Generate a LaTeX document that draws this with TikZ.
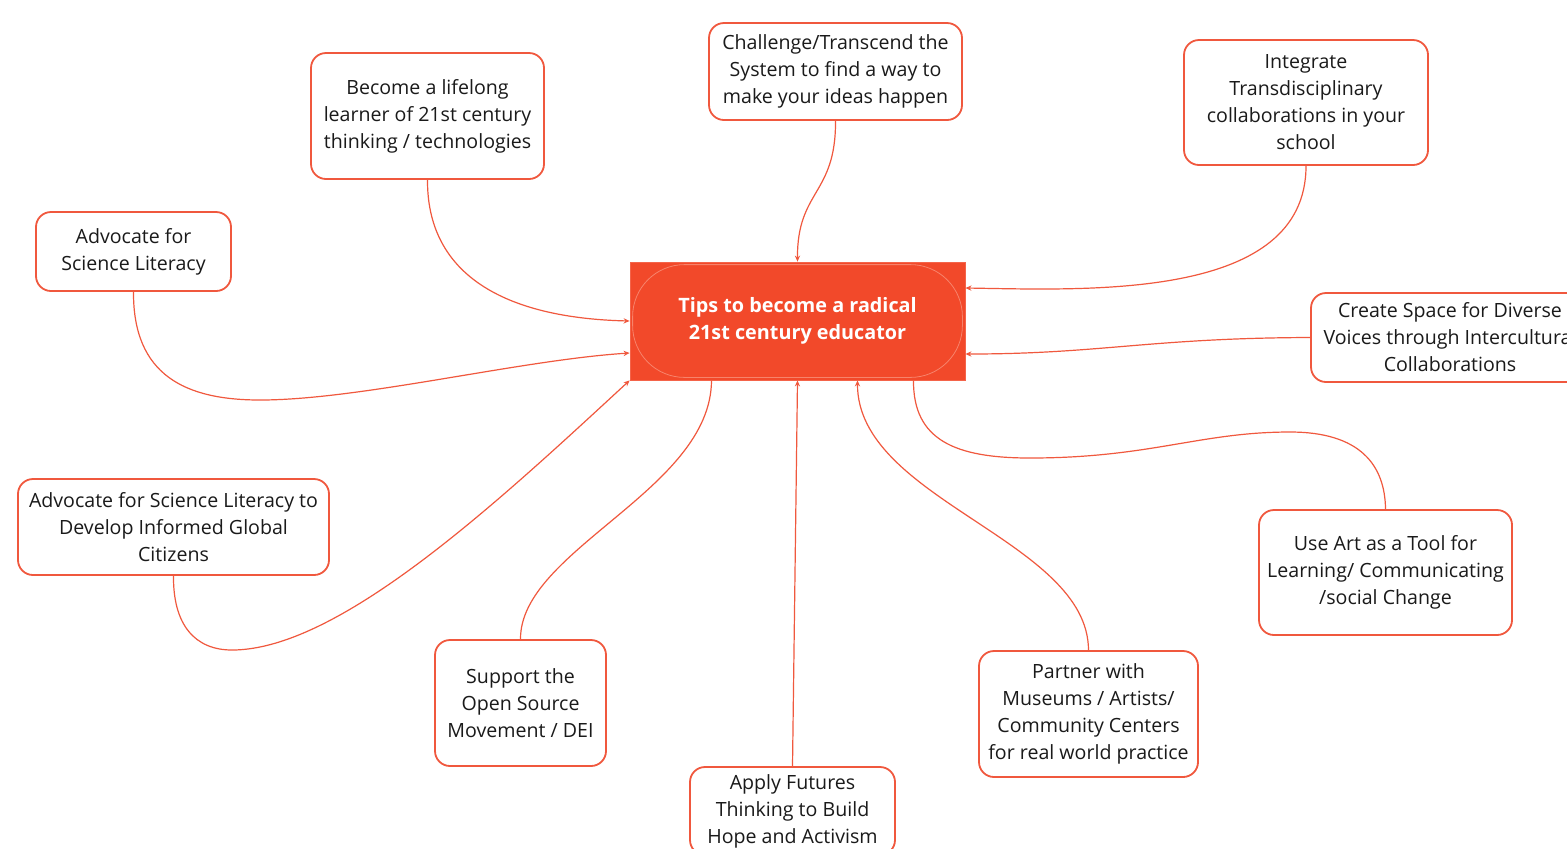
\documentclass[tikz,border=0pt]{standalone}
\usepackage{fontspec}
\setmainfont{Open Sans}
\usetikzlibrary{calc,arrows.meta}
\definecolor{cfill}{HTML}{F2492A}
\definecolor{cline}{HTML}{F0583E}
\definecolor{ctext}{HTML}{1A1A1A}
\definecolor{cinner}{HTML}{F7836B}
\tikzset{
  tip/.style={draw=cline,rounded corners=7.5pt,line width=0.9pt,fill=white,
    text=ctext,align=center,inner sep=0pt,
    font=\fontsize{9.8pt}{13.5pt}\selectfont},
  link/.style={draw=cline,line width=0.6pt},
  arr/.style={link,-{Stealth[length=3pt,width=2.6pt]}},
}
\begin{document}
\begin{tikzpicture}[x=0.5pt,y=-0.5pt]
\useasboundingbox (0,0) rectangle (1567,848);
\fill[white] (0,0) rectangle (1567,848);
\clip (0,0) rectangle (1567,848);

% central node
\node[fill=cfill,draw=cfill!85!white,line width=0.4pt,minimum width=167.5pt,minimum height=59pt,inner sep=0pt,
  text=white,align=center,font=\bfseries\fontsize{9.9pt}{13.5pt}\selectfont] (c) at (797.5,321)
  {Tips to become a radical\\21st century educator};
\draw[cinner,line width=0.4pt,rounded corners=26pt] ($(c.south west)+(3,-3)$) rectangle ($(c.north east)+(-3,3)$);

% tips
\node[tip,minimum width=116.5pt,minimum height=63pt] (b1) at (427.5,116)
  {Become a lifelong\\learner of 21st century\\thinking / technologies};
\node[tip,minimum width=126.5pt,minimum height=48.5pt] (ch) at (835.5,71.5)
  {Challenge/Transcend the\\System to find a way to\\make your ideas happen};
\node[tip,minimum width=122pt,minimum height=62.5pt] (ig) at (1306,102.5)
  {Integrate\\Transdisciplinary\\collaborations in your\\school};
\node[tip,minimum width=97.5pt,minimum height=39.5pt] (ad) at (133.5,251.5)
  {Advocate for\\Science Literacy};
\node[tip,minimum width=139pt,minimum height=44.5pt] (cs) at (1450,337.5)
  {Create Space for Diverse\\Voices through Intercultural\\Collaborations};
\node[tip,minimum width=155.5pt,minimum height=48pt] (ad2) at (173.5,527)
  {Advocate for Science Literacy to\\Develop Informed Global\\Citizens};
\node[tip,minimum width=85.5pt,minimum height=63pt] (su) at (520.5,703)
  {Support the\\Open Source\\Movement / DEI};
\node[tip,minimum width=102.5pt,minimum height=44pt] (ap) at (792.5,811)
  {Apply Futures\\Thinking to Build\\Hope and Activism};
\node[tip,minimum width=109.5pt,minimum height=63pt] (pa) at (1088.5,714)
  {Partner with\\Museums / Artists/\\Community Centers\\for real world practice};
\node[tip,minimum width=126.5pt,minimum height=62.5pt] (ua) at (1385.5,572.5)
  {Use Art as a Tool for\\Learning/ Communicating\\/social Change};

% ports on the central node
\coordinate (cR1) at ($(c.east)+(0,-33)$);
\coordinate (cR2) at ($(c.east)+(0,33)$);
\coordinate (cL2) at ($(c.west)+(0,32)$);
\coordinate (cB1) at ($(c.south)+(-86,0)$);
\coordinate (cB3) at ($(c.south)+(60,0)$);
\coordinate (cB4) at ($(c.south)+(116,0)$);

% connectors
\draw[arr] (b1.south) .. controls (427,275) and (505,318) .. (c.west);
\draw[arr] (ch.south) .. controls (836,195) and (797,190) .. (c.north);
\draw[arr] (ig.south) .. controls (1306,300) and (1090,290) .. (cR1);
\draw[arr] (ad.south) .. controls (133,375) and (185,400) .. (260,400)
  .. controls (360,400) and (520,360) .. (cL2);
\draw[arr] (cs.west) .. controls (1150,338) and (1100,354) .. (cR2);
\draw[arr] (ad2.south) .. controls (173,625) and (195,650) .. (232,650)
  .. controls (340,650) and (500,500) .. (c.south west);
\draw[link] (su.north) .. controls (520,550) and (711,490) .. (cB1);
\draw[arr] (ap.north) -- (c.south);
\draw[arr] (pa.north) .. controls (1088,540) and (857,500) .. (cB3);
\draw[link] (cB4) .. controls (913,440) and (955,458) .. (1030,458)
  .. controls (1150,458) and (1200,432) .. (1290,432)
  .. controls (1360,432) and (1385,465) .. (ua.north);
\end{tikzpicture}
\end{document}
